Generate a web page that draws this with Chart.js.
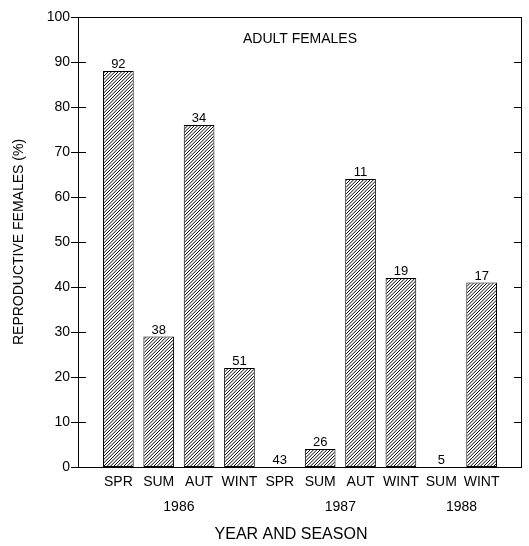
<!DOCTYPE html>
<html>
<head>
<meta charset="utf-8">
<script src="https://cdn.jsdelivr.net/npm/chart.js@4/dist/chart.umd.min.js"></script>
<style>
  html, body { margin: 0; padding: 0; background: #fff; }
  #wrap { width: 529px; height: 546px; }
</style>
</head>
<body>
<div id="wrap"><canvas id="bar-chart"></canvas></div>
<script>
// data
var seasons = ['SPR', 'SUM', 'AUT', 'WINT', 'SPR', 'SUM', 'AUT', 'WINT', 'SUM', 'WINT'];
var percents = [88, 29, 76, 22, 0, 4, 64, 42, 0, 41];
var counts = [92, 38, 34, 51, 43, 26, 11, 19, 5, 17];
var years = ['1986', '1987', '1988'];
var yearAt = [2.5, 6.5, 9.5];   // category index the year sits under (between two seasons)
var yTicks = [0, 10, 20, 30, 40, 50, 60, 70, 80, 90, 100];

var FONT = '"Liberation Sans", Arial, Helvetica, sans-serif';
Chart.defaults.font.family = FONT;
Chart.defaults.color = '#000';

// one empty slot on each side, like the original axis
var labels = [''].concat(seasons, ['']);
var values = [null].concat(percents, [null]);
var sizes = [null].concat(counts, [null]);

// "/" hatching, 3 lines per 10px tile
function hatch() {
    var n = 10;
    var c = document.createElement('canvas');
    c.width = n; c.height = n;
    var g = c.getContext('2d');
    g.fillStyle = '#fff';
    g.fillRect(0, 0, n, n);
    g.strokeStyle = '#000';
    g.lineWidth = 1;
    g.beginPath();
    for (var o = -n; o <= n; o += n / 3) {
        g.moveTo(o - 1, n + 1);
        g.lineTo(o + n + 1, -1);
    }
    g.stroke();
    return g.createPattern(c, 'repeat');
}

var extras = {
    id: 'extras',
    afterDraw: function(chart) {
        var ctx = chart.ctx, a = chart.chartArea;
        var x = chart.scales.x, y = chart.scales.y;
        ctx.save();
        ctx.strokeStyle = '#000';
        ctx.lineWidth = 1;
        ctx.strokeRect(Math.round(a.left) + 0.5, Math.round(a.top) + 0.5,
            Math.round(a.width) - 1, Math.round(a.height));

        // y tick marks: across the left axis, inside on the right
        ctx.beginPath();
        yTicks.forEach(function(v) {
            var py = Math.round(y.getPixelForValue(v)) + 0.5;
            ctx.moveTo(a.left - 7, py); ctx.lineTo(a.left + 8, py);
            ctx.moveTo(a.right - 8, py); ctx.lineTo(a.right, py);
        });
        ctx.stroke();

        // sample sizes above bars
        ctx.fillStyle = '#000';
        ctx.font = '13px ' + FONT;
        ctx.textAlign = 'center';
        ctx.textBaseline = 'alphabetic';
        chart.getDatasetMeta(0).data.forEach(function(bar, i) {
            if (sizes[i] == null) return;
            ctx.fillText(String(sizes[i]), bar.x, bar.y - 3);
        });

        ctx.font = '14px ' + FONT;
        ctx.textBaseline = 'middle';
        ctx.fillText('ADULT FEMALES', (a.left + a.right) / 2, a.top + 22);

        years.forEach(function(yr, i) {
            ctx.fillText(yr, x.getPixelForValue(yearAt[i]), a.bottom + 40);
        });

        ctx.font = '16px ' + FONT;
        ctx.fillText('YEAR AND SEASON', 291, a.bottom + 68);
        ctx.restore();
    }
};

var chart = document.querySelector('#bar-chart');
var myChart = new Chart(
    chart, {
        type: 'bar',
        data: {
            labels: labels,
            datasets: [{
                data: values,
                backgroundColor: hatch(),
                borderColor: '#000',
                borderWidth: 1,
                borderSkipped: false,
                barPercentage: 0.76,
                categoryPercentage: 1
            }]
        },
        options: {
            responsive: true,
            maintainAspectRatio: false,
            animation: false,
            layout: {
                padding: { top: 17, right: 3, left: 0, bottom: 0 }
            },
            plugins: {
                legend: { display: false },
                tooltip: { enabled: false }
            },
            scales: {
                x: {
                    offset: false,
                    grid: { display: false, drawTicks: false, offset: false },
                    border: { display: false },
                    ticks: {
                        padding: 7,
                        maxRotation: 0,
                        autoSkip: false,
                        font: { size: 14 }
                    },
                    afterFit: function(s) { s.height = 79; }
                },
                y: {
                    min: 0,
                    max: 100,
                    grid: { display: false, drawTicks: false },
                    border: { display: false },
                    ticks: {
                        stepSize: 10,
                        padding: 8,
                        font: { size: 14 }
                    },
                    title: {
                        display: true,
                        text: 'REPRODUCTIVE FEMALES (%)',
                        font: { size: 14 },
                        padding: { top: 11, bottom: 0 }
                    },
                    afterFit: function(s) { s.width = 78; }
                }
            }
        },
        plugins: [extras]
    }
);
</script>
</body>
</html>
